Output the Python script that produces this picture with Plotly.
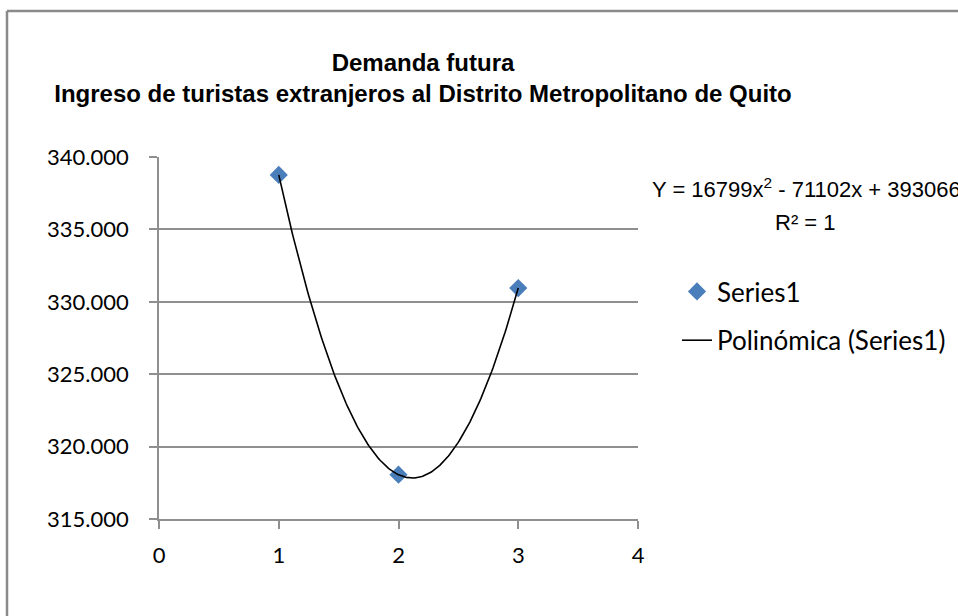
import numpy as np
import plotly.graph_objects as go

# Observed yearly entries (x = period index)
periods = [1, 2, 3]
tourists = [338763, 318058, 330951]

# Second-degree polynomial trend: a*x^2 + b*x + c
trend_coeffs = [16799, -71102, 393066]

x_ticks = [0, 1, 2, 3, 4]
y_ticks = [315000, 320000, 325000, 330000, 335000, 340000]

# Plot-area geometry in pixels, used to place paper-referenced items
W, H = 958, 616
L, R, T, B = 159, 638, 157, 519


def px_x(p):
    return (p - L) / (R - L)


def px_y(p):
    return (B - p) / (B - T)


xs = np.linspace(periods[0], periods[-1], 200)
ys = np.polyval(trend_coeffs, xs)

tick_font = dict(family="Lato, Carlito, Calibri, sans-serif", size=22, color="#000000")
legend_font = dict(family="Lato, Carlito, Calibri, sans-serif", size=26, color="#000000")
eq_font = dict(family="Liberation Sans, Arial, sans-serif", size=22, color="#000000")
grid_col = "#8f8f8f"

fig = go.Figure()
fig.add_trace(go.Scatter(
    x=periods, y=tourists, mode="markers", name="Series1",
    legendgroup="a",
    marker=dict(symbol="diamond", size=14, color="#4A7EBB"),
))
fig.add_trace(go.Scatter(
    x=xs, y=ys, mode="lines", name="Polinómica (Series1)",
    legendgroup="b",
    line=dict(color="#000000", width=1.6),
))

fig.update_layout(
    width=W, height=H,
    margin=dict(l=L, r=W - R, t=T, b=H - B, autoexpand=False),
    paper_bgcolor="white", plot_bgcolor="white",
    separators=",.",
    title=dict(
        text="<b>Demanda futura<br>Ingreso de turistas extranjeros al Distrito Metropolitano de Quito</b>",
        x=423 / W, xanchor="center", xref="container",
        y=1 - 71 / H, yanchor="top", yref="container",
        font=dict(family="Liberation Sans Narrow, Arial Narrow, Liberation Sans, sans-serif",
                  size=24, color="#000000"),
    ),
    xaxis=dict(
        range=[0, 4], tickvals=x_ticks, showgrid=False,
        showline=True, linecolor=grid_col, linewidth=1.5,
        ticks="outside", ticklen=8, tickcolor=grid_col, tickwidth=1.5,
        tickfont=tick_font, ticklabelstandoff=8, zeroline=False,
    ),
    yaxis=dict(
        range=[315000, 340000], tickvals=y_ticks, tickformat=",d",
        showgrid=True, gridcolor=grid_col, gridwidth=1.5,
        showline=True, linecolor=grid_col, linewidth=1.5,
        ticks="outside", ticklen=8, tickcolor=grid_col, tickwidth=1.5,
        tickfont=tick_font, ticklabelstandoff=16, zeroline=False,
    ),
    legend=dict(
        x=px_x(677), y=px_y(268), xanchor="left", yanchor="top",
        font=legend_font, bgcolor="rgba(0,0,0,0)",
        traceorder="grouped", tracegroupgap=12,
    ),
    showlegend=True,
)

# Trendline equation and fit quality
fig.add_annotation(
    x=px_x(650), y=px_y(188), xref="paper", yref="paper",
    xanchor="left", yanchor="middle", showarrow=False,
    text="Y = 16799x<sup>2</sup> - 71102x + 393066", font=eq_font,
)
fig.add_annotation(
    x=px_x(805), y=px_y(222), xref="paper", yref="paper",
    xanchor="center", yanchor="middle", showarrow=False,
    text="R² = 1", font=eq_font,
)

# Chart-area frame (top and left edges)
frame = dict(color="#8a8a8a", width=2.5)
fig.add_shape(type="line", xref="paper", yref="paper",
              x0=px_x(7), y0=px_y(11), x1=px_x(7), y1=px_y(640), line=frame)
fig.add_shape(type="line", xref="paper", yref="paper",
              x0=px_x(7), y0=px_y(11), x1=px_x(990), y1=px_y(11), line=frame)

fig.write_html("out.html")
